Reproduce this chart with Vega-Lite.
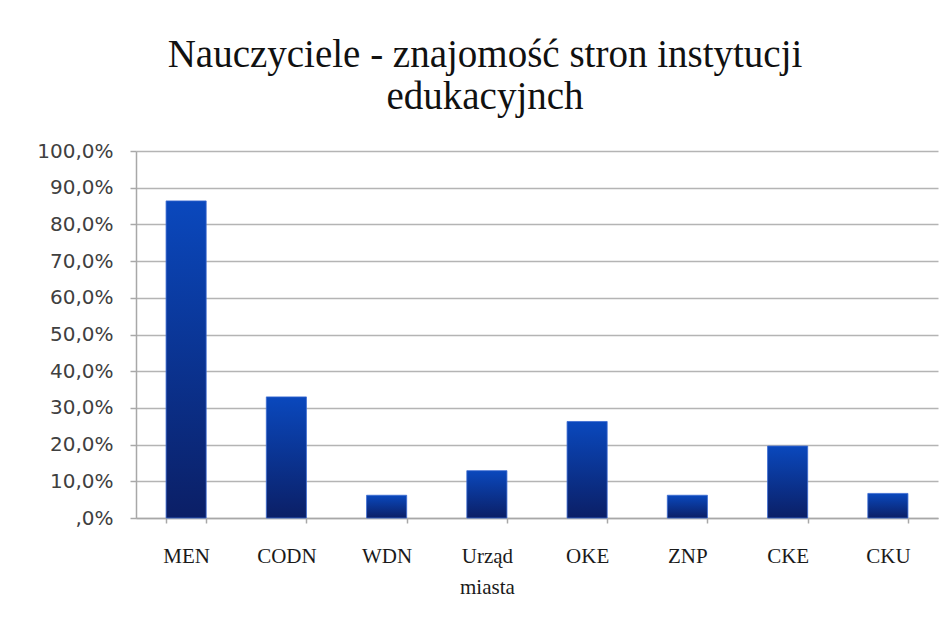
{
  "$schema": "https://vega.github.io/schema/vega-lite/v6.json",
  "width": 802,
  "height": 367,
  "autosize": "none",
  "padding": {"left": 136, "top": 151, "right": 12, "bottom": 99},
  "background": "white",
  "title": {
    "text": ["Nauczyciele - znajomość stron instytucji", "edukacyjnch"],
    "font": "Liberation Serif",
    "fontSize": 39,
    "fontWeight": "normal",
    "color": "#111111",
    "lineHeight": 42,
    "anchor": "middle",
    "dx": -52,
    "offset": 24
  },
  "data": {
    "values": [
      {"instytucja": "MEN", "udzial": 0.864},
      {"instytucja": "CODN", "udzial": 0.330},
      {"instytucja": "WDN", "udzial": 0.062},
      {"instytucja": "Urząd miasta", "udzial": 0.129},
      {"instytucja": "OKE", "udzial": 0.263},
      {"instytucja": "ZNP", "udzial": 0.062},
      {"instytucja": "CKE", "udzial": 0.196},
      {"instytucja": "CKU", "udzial": 0.067}
    ]
  },
  "mark": {
    "type": "bar",
    "color": {
      "gradient": "linear",
      "x1": 0, "y1": 0, "x2": 0, "y2": 1,
      "stops": [
        {"offset": 0, "color": "#0a48bd"},
        {"offset": 1, "color": "#0b1f66"}
      ]
    },
    "stroke": "#3a6ad0",
    "strokeWidth": 0.8
  },
  "encoding": {
    "x": {
      "field": "instytucja",
      "type": "nominal",
      "sort": null,
      "scale": {"paddingInner": 0.6, "paddingOuter": 0.3},
      "axis": {
        "title": null,
        "labelAngle": 0,
        "labelFont": "Liberation Serif",
        "labelFontSize": 21,
        "labelColor": "#1a1a1a",
        "labelPadding": 22,
        "labelLineHeight": 31,
        "labelExpr": "datum.value == 'Urząd miasta' ? ['Urząd', 'miasta'] : datum.value",
        "tickBand": "extent",
        "tickSize": 5,
        "tickColor": "#a8a8a8",
        "tickWidth": 1.5,
        "domainColor": "#a8a8a8",
        "domainWidth": 1.5,
        "grid": false
      }
    },
    "y": {
      "field": "udzial",
      "type": "quantitative",
      "scale": {"domain": [0, 1], "nice": false},
      "axis": {
        "title": null,
        "values": [0, 0.1, 0.2, 0.3, 0.4, 0.5, 0.6, 0.7, 0.8, 0.9, 1.0],
        "labelExpr": "datum.value == 0 ? ',0%' : replace(format(datum.value * 100, '.1f'), '.', ',') + '%'",
        "labelFont": "DejaVu Sans",
        "labelFontSize": 20,
        "labelColor": "#404040",
        "labelPadding": 17,
        "tickSize": 6,
        "tickColor": "#a8a8a8",
        "tickWidth": 1.5,
        "domainColor": "#a8a8a8",
        "domainWidth": 1.5,
        "grid": true,
        "gridColor": "#b4b4b4",
        "gridWidth": 1.5
      }
    }
  },
  "config": {
    "view": {"stroke": null}
  }
}
